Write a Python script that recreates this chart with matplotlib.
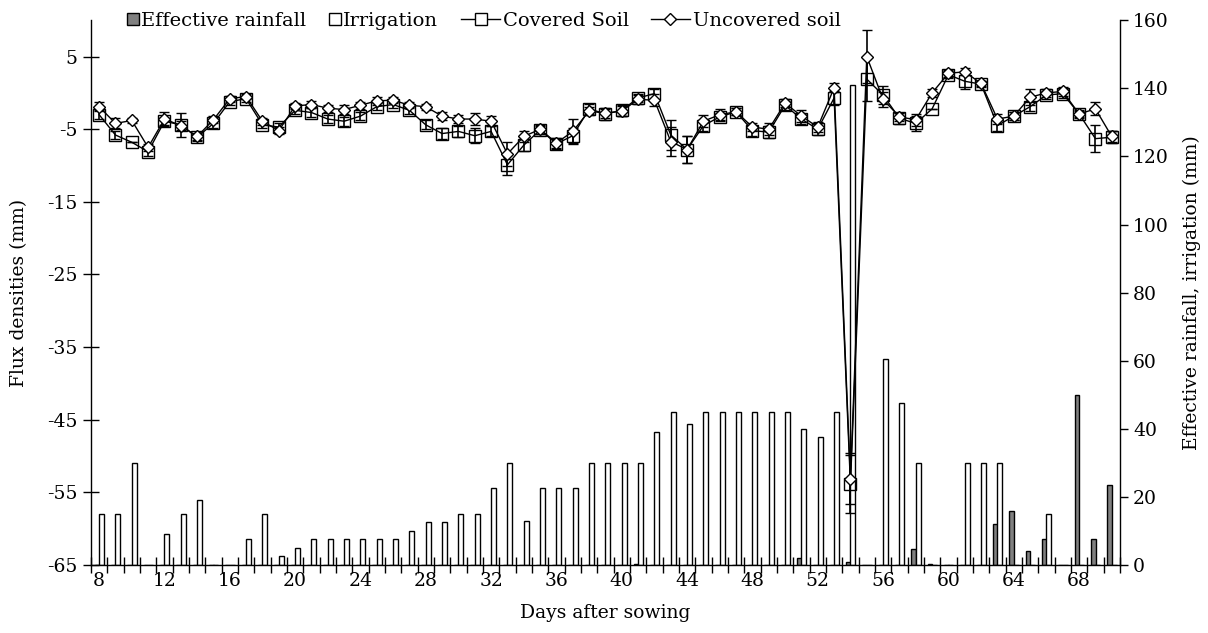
import matplotlib
matplotlib.use("Agg")
import matplotlib.pyplot as plt
import numpy as np
from matplotlib.lines import Line2D
from matplotlib.patches import Rectangle
from matplotlib.legend_handler import HandlerBase

plt.rcParams['font.family'] = ['DejaVu Serif']
plt.rcParams['axes.unicode_minus'] = False

days = list(range(8, 71))

irrigation = [15, 15, 30, 0, 9, 15, 19, 0, 0, 7.5,
              15, 2.6, 5, 7.5, 7.5, 7.5, 7.5, 7.5, 7.5, 10,
              12.5, 12.5, 15, 15, 22.5, 30, 13, 22.5, 22.5, 22.5,
              30, 30, 30, 30, 39, 45, 41.5, 45, 45, 45,
              45, 45, 45, 40, 37.5, 45, 141, 0, 60.5, 47.5,
              30, 0, 0, 30, 30, 30, 0, 0, 15, 0,
              0, 0, 0]

eff_rain = [0, 0, 0, 0, 0, 0, 0, 0, 0, 0,
            0, 0, 0, 0, 0, 0, 0, 0, 0, 0,
            0, 0, 0, 0, 0, 0, 0, 0, 0, 0,
            0, 0, 0, 0.3, 0, 0, 0, 0, 0, 0,
            0, 0, 0, 2.1, 0, 0, 0.8, 0, 0, 0,
            4.6, 0.4, 0, 0, 0, 11.9, 15.9, 4.2, 7.7, 0,
            50, 7.7, 23.6]

covered = [-3.0, -5.8, -6.8, -8.1, -3.9, -4.4, -6.1, -4.2, -1.2, -0.8,
           -4.4, -4.7, -2.4, -2.7, -3.6, -3.9, -3.2, -1.9, -1.6, -2.4,
           -4.4, -5.6, -5.3, -5.9, -5.3, -9.9, -7.2, -5.1, -7.0, -5.9,
           -2.2, -2.9, -2.4, -0.7, -0.1, -5.8, -7.8, -4.5, -3.3, -2.6,
           -5.2, -5.4, -1.7, -3.6, -5.0, -0.7, -53.9, 1.9, -0.3, -3.5,
           -4.2, -2.2, 2.5, 1.6, 1.2, -4.5, -3.2, -1.9, -0.3, -0.1,
           -2.9, -6.3, -6.1]

covered_err = [0.6, 0.5, 0.0, 0.6, 0.5, 1.7, 0.5, 0.6, 0.4, 0.4,
               0.5, 0.5, 0.5, 0.6, 0.6, 0.6, 0.6, 0.5, 0.5, 0.5,
               0.6, 0.8, 0.8, 1.0, 0.7, 1.4, 0.8, 0.6, 0.7, 1.0,
               0.7, 0.8, 0.8, 0.6, 0.7, 2.0, 1.9, 0.7, 0.6, 0.5,
               0.7, 0.8, 0.6, 0.7, 0.8, 1.0, 4.0, 3.0, 1.2, 0.8,
               1.0, 0.0, 0.5, 1.1, 0.4, 0.8, 0.6, 0.6, 0.5, 0.6,
               0.5, 1.9, 0.8]

uncovered = [-1.9, -4.2, -3.8, -7.5, -3.6, -4.5, -6.0, -3.7, -0.8, -0.5,
             -3.9, -5.2, -1.8, -1.6, -2.1, -2.3, -1.7, -1.1, -1.0, -1.7,
             -1.9, -3.2, -3.6, -3.6, -3.9, -8.4, -6.0, -5.0, -6.9, -5.3,
             -2.5, -2.8, -2.5, -0.9, -1.0, -6.7, -7.8, -3.9, -3.0, -2.6,
             -4.7, -5.0, -1.4, -3.2, -4.7, 0.7, -53.1, 5.0, -0.9, -3.3,
             -3.7, 0.0, 2.7, 2.9, 1.3, -3.6, -3.2, -0.6, 0.0, 0.2,
             -2.9, -2.2, -6.0]

uncovered_err = [0.6, 0.7, 0.3, 0.5, 1.0, 0.6, 0.5, 0.5, 0.4, 0.4,
                 0.5, 0.5, 0.4, 0.5, 0.5, 0.6, 0.5, 0.5, 0.4, 0.4,
                 0.4, 0.6, 0.5, 0.8, 0.7, 1.7, 0.7, 0.6, 0.7, 1.7,
                 0.6, 0.6, 0.7, 0.6, 0.8, 2.0, 1.9, 0.8, 0.8, 0.5,
                 0.6, 0.8, 0.5, 0.8, 0.7, 0.6, 3.5, 3.7, 1.0, 0.6,
                 0.8, 0.5, 0.5, 0.5, 0.4, 0.7, 0.6, 1.1, 0.5, 0.6,
                 0.4, 0.9, 0.7]

xlabels = list(range(8, 69, 4))

fig = plt.figure(figsize=(12.08, 6.33), dpi=100)
ax = fig.add_axes([0.0753, 0.1074, 0.8518, 0.8606])
ax2 = ax.twinx()

x = np.array(days, dtype=float)
bw = 0.3
ax2.bar(x - 0.13, eff_rain, width=bw, color='#808080', edgecolor='black', linewidth=1.0)
ax2.bar(x + 0.15, irrigation, width=bw, color='white', edgecolor='black', linewidth=1.0)
ax2.set_ylim(0, 160)
ax2.set_yticks(range(0, 161, 20))
ax2.set_ylabel('Effective rainfall, irrigation (mm)', fontsize=13.5, rotation=90, labelpad=10)

ax.set_zorder(ax2.get_zorder() + 1)
ax.patch.set_visible(False)

ax.errorbar(x, covered, yerr=covered_err, color='black', linewidth=1.0, marker='s',
            markersize=8, markerfacecolor='none', markeredgecolor='black', markeredgewidth=1.0,
            capsize=3.5, elinewidth=1.2, capthick=1.2)
ax.errorbar(x, uncovered, yerr=uncovered_err, color='black', linewidth=1.0, marker='D',
            markersize=6, markerfacecolor='white', markeredgecolor='black', markeredgewidth=1.0,
            capsize=3.5, elinewidth=1.2, capthick=1.2)

ax.set_xlim(7.5, 70.5)
ax.set_ylim(-65, 10)
ax.set_yticks(range(-65, 6, 10))
ax.set_ylabel('Flux densities (mm)', fontsize=13.5, labelpad=14)
ax.set_xlabel('Days after sowing', fontsize=13.5, labelpad=10)

ax.set_xticks(xlabels)
ax.set_xticklabels([str(v) for v in xlabels])
ax.set_xticks(np.arange(7.5, 71, 1.0), minor=True)
ax.tick_params(axis='x', which='major', length=0, labelsize=13.5, pad=5)
ax.tick_params(axis='x', which='minor', direction='inout', length=11, width=1.0)
ax.tick_params(axis='y', direction='inout', length=12, width=1.0, labelsize=13.5)
ax2.tick_params(axis='y', direction='out', length=6, width=1.0, labelsize=13.5)

for a in (ax, ax2):
    a.spines['top'].set_visible(False)
    for s in ('left', 'right', 'bottom'):
        a.spines[s].set_linewidth(1.0)
ax.spines['right'].set_visible(False)
ax2.spines['left'].set_visible(False)
ax2.spines['bottom'].set_visible(False)


class SquareHandler(HandlerBase):
    def create_artists(self, legend, orig_handle, xdescent, ydescent, width, height,
                       fontsize, trans):
        size = 0.62 * fontsize
        x0 = -xdescent + width - size
        y0 = -ydescent + (height - size) / 2.0
        r = Rectangle((x0, y0), size, size, facecolor=orig_handle.get_facecolor(),
                      edgecolor='black', linewidth=1.0, transform=trans)
        return [r]


bar_handles = [Rectangle((0, 0), 1, 1, facecolor='#808080', edgecolor='black'),
               Rectangle((0, 0), 1, 1, facecolor='white', edgecolor='black')]
bar_labels = ['Effective rainfall', 'Irrigation']
line_handles = [
    Line2D([0], [0], color='black', lw=1.0, marker='s', markersize=8,
           markerfacecolor='white', markeredgecolor='black'),
    Line2D([0], [0], color='black', lw=1.0, marker='D', markersize=6,
           markerfacecolor='white', markeredgecolor='black'),
]
line_labels = ['Covered Soil', 'Uncovered soil']

leg1 = fig.legend(bar_handles, bar_labels, loc='center left', bbox_to_anchor=(0.105, 0.967),
                  ncol=2, frameon=False, fontsize=14, handlelength=0.65, handletextpad=0.1,
                  columnspacing=1.1, borderpad=0, borderaxespad=0,
                  handler_map={Rectangle: SquareHandler()})
leg2 = fig.legend(line_handles, line_labels, loc='center left', bbox_to_anchor=(0.382, 0.967),
                  ncol=2, frameon=False, fontsize=14, handlelength=2.0, handletextpad=0.15,
                  columnspacing=1.1, borderpad=0, borderaxespad=0)

fig.savefig('out.png', dpi=100)
